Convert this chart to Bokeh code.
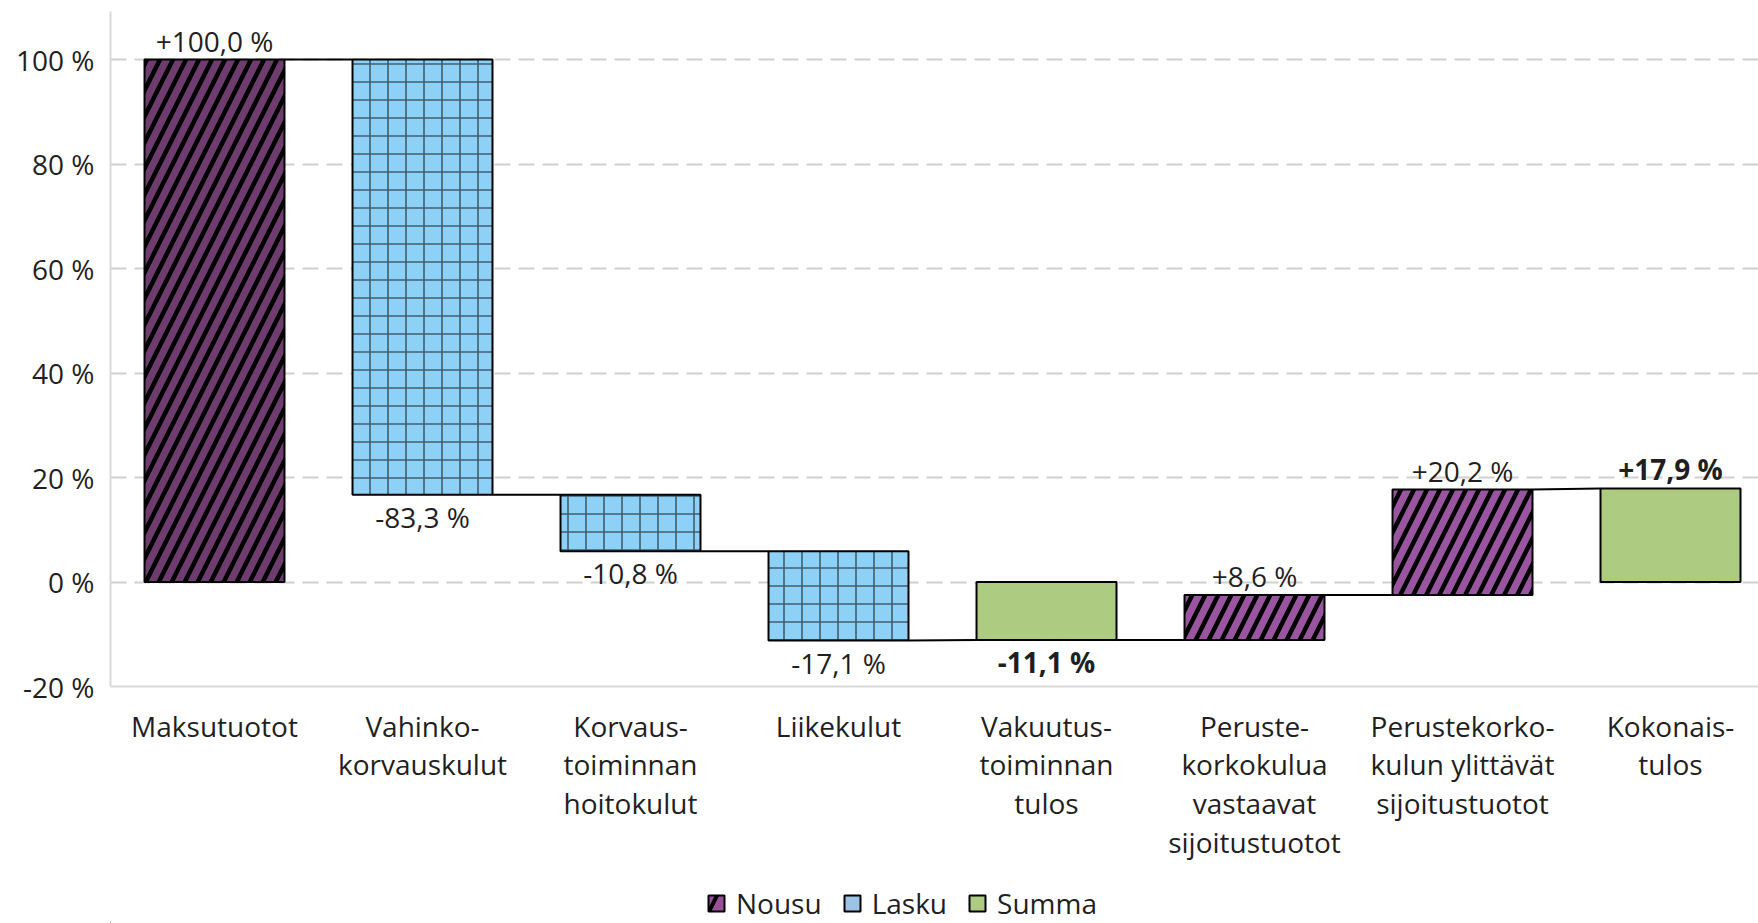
import numpy as np
from bokeh.plotting import figure
from bokeh.layouts import column
from bokeh.models import ColumnDataSource, Range1d, FixedTicker, Legend, LegendItem
from bokeh.core.properties import value
from bokeh.embed import file_html
from bokeh.resources import INLINE

# ---- data ----
categories = [
    "Maksutuotot",
    "Vahinko-\nkorvauskulut",
    "Korvaus-\ntoiminnan\nhoitokulut",
    "Liikekulut",
    "Vakuutus-\ntoiminnan\ntulos",
    "Peruste-\nkorkokulua\nvastaavat\nsijoitustuotot",
    "Perustekorko-\nkulun ylittävät\nsijoitustuotot",
    "Kokonais-\ntulos",
]
values = [100.0, -83.3, -10.8, -17.1, -11.1, 8.6, 20.2, 17.9]
kinds = ["Nousu", "Lasku", "Lasku", "Lasku", "Summa", "Nousu", "Nousu", "Summa"]
y_ticks = [-20, 0, 20, 40, 60, 80, 100]
legend_labels = ["Nousu", "Lasku", "Summa"]

# ---- styles ----
FONT = "Open Sans"
FS = "28px"
TXT = "#1f1f1f"
bar_fill = ["#6E3C6E", "#8ED1F6", "#8ED1F6", "#8ED1F6", "#AECB82", "#9A55A0", "#9A55A0", "#AECB82"]
legend_fill = {"Nousu": "#9B4F9B", "Lasku": "#9DC3E6", "Summa": "#AECB82"}
BAR_W = 0.673

# ---- waterfall geometry derived from data ----
starts, ends = [], []
level = 0.0
for v, k in zip(values, kinds):
    if k == "Summa":
        s, e = 0.0, v
    else:
        s, e = level, level + v
    starts.append(s)
    ends.append(e)
    level = e

xs = np.arange(len(categories))
bottoms = [min(s, e) for s, e in zip(starts, ends)]
tops = [max(s, e) for s, e in zip(starts, ends)]

src = {k: ColumnDataSource(dict(
    x=[xs[i] for i in range(len(xs)) if kinds[i] == k],
    bottom=[bottoms[i] for i in range(len(xs)) if kinds[i] == k],
    top=[tops[i] for i in range(len(xs)) if kinds[i] == k],
    fill=[bar_fill[i] for i in range(len(xs)) if kinds[i] == k],
)) for k in legend_labels}

p = figure(width=1758, height=880, output_backend="svg", toolbar_location=None,
           x_range=Range1d(-0.5, 7.423), y_range=Range1d(-20, 109.2),
           min_border_left=110, min_border_right=0, min_border_top=11, min_border_bottom=194)
p.outline_line_color = None
p.background_fill_color = "white"
p.border_fill_color = "white"

# grid
p.xgrid.grid_line_color = None
p.ygrid.ticker = FixedTicker(ticks=y_ticks[1:])
p.ygrid.grid_line_color = "#D0D0D0"
p.ygrid.grid_line_width = 2
p.ygrid.grid_line_dash = "16 8"

# axes
p.yaxis.ticker = FixedTicker(ticks=y_ticks)
p.yaxis.major_label_overrides = {t: f"{t} %" for t in y_ticks}
p.xaxis.ticker = FixedTicker(ticks=list(xs))
p.xaxis.major_label_overrides = {int(i): c for i, c in zip(xs, categories)}
for ax in (p.xaxis, p.yaxis):
    ax.axis_line_color = "#D9D9D9"
    ax.axis_line_width = 2
    ax.major_tick_line_color = None
    ax.minor_tick_line_color = None
    ax.major_label_text_font = FONT
    ax.major_label_text_font_size = FS
    ax.major_label_text_color = TXT
p.yaxis.major_label_standoff = 10
p.xaxis.major_label_standoff = 14
p.xaxis.major_label_text_line_height = 1.02

# connectors
cx0, cx1, cy0, cy1 = [], [], [], []
for i in range(len(xs) - 1):
    cx0.append(xs[i] + BAR_W / 2)
    cx1.append(xs[i + 1] - BAR_W / 2)
    cy0.append(ends[i])
    cy1.append(ends[i + 1] if kinds[i + 1] == "Summa" else starts[i + 1])
p.segment(x0=cx0, y0=cy0, x1=cx1, y1=cy1, line_color="black", line_width=2)

# bars
p.vbar(x="x", bottom="bottom", top="top", width=BAR_W, source=src["Nousu"],
       fill_color="fill", line_color="black", line_width=2,
       hatch_pattern="/", hatch_color="black", hatch_scale=26, hatch_weight=4.5)
p.vbar(x="x", bottom="bottom", top="top", width=BAR_W, source=src["Lasku"],
       fill_color="fill", line_color="black", line_width=2,
       hatch_pattern="+", hatch_color="black", hatch_alpha=0.55, hatch_scale=18, hatch_weight=1.6)
p.vbar(x="x", bottom="bottom", top="top", width=BAR_W, source=src["Summa"],
       fill_color="fill", line_color="black", line_width=2)

# value labels
def fmt(v):
    return (f"{v:+.1f}".replace(".", ",")) + " %"

for bold in (False, True):
    for above in (True, False):
        lx, ly, lt = [], [], []
        for i, v in enumerate(values):
            if (kinds[i] == "Summa") != bold or (v > 0) != above:
                continue
            lx.append(xs[i])
            lt.append(fmt(v))
            ly.append(tops[i] if above else bottoms[i])
        if not lx:
            continue
        p.text(x=lx, y=ly, text=lt, y_offset=0 if above else 3, text_align="center",
               text_baseline="bottom" if above else "top",
               text_font=value(FONT), text_font_size=FS, text_color=TXT,
               text_font_style="bold" if bold else "normal")

# legend strip (separate figure below the chart); swatch glyphs sit outside its view
lf = figure(width=1758, height=43, output_backend="svg", toolbar_location=None,
            x_range=Range1d(0, 1), y_range=Range1d(0, 1), x_axis_type=None, y_axis_type=None,
            min_border_left=0, min_border_right=0, min_border_top=0, min_border_bottom=0)
lf.outline_line_color = None
lf.xgrid.visible = False
lf.ygrid.visible = False
leg_items = []
for k in legend_labels:
    kw = dict(fill_color=legend_fill[k], line_color="black", line_width=2)
    if k == "Nousu":
        kw.update(hatch_pattern="/", hatch_color="black", hatch_scale=44, hatch_weight=4)
    r = lf.vbar(x=[-5], bottom=[-5], top=[-4], width=0.5, **kw)
    leg_items.append(LegendItem(label=k, renderers=[r]))
legend = Legend(items=leg_items, orientation="horizontal", location=(596, 1),
                glyph_width=20, glyph_height=20, label_standoff=10, spacing=20,
                padding=0, margin=0, border_line_color=None, background_fill_alpha=0,
                label_text_font=FONT, label_text_font_size=FS, label_text_color=TXT,
                label_text_line_height=0.75)
lf.add_layout(legend, "center")

open("out.html", "w").write(file_html(column(p, lf), INLINE))
